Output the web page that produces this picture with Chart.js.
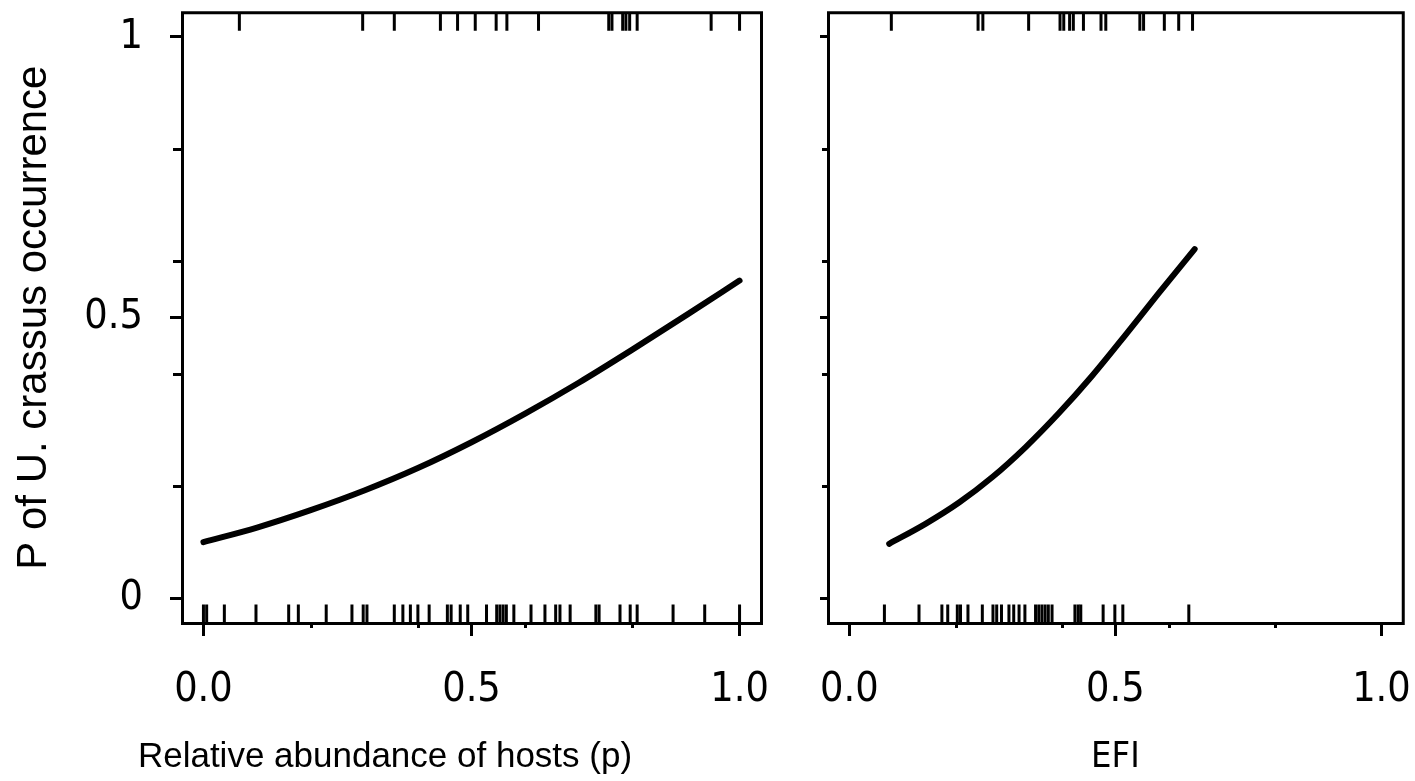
<!DOCTYPE html>
<html><head><meta charset="utf-8">
<script src="https://cdn.jsdelivr.net/npm/chart.js@4.4.0/dist/chart.umd.min.js"></script>
<style>
html,body{margin:0;padding:0;background:#fff;}
#wrap{position:relative;width:1415px;height:781px;overflow:hidden;background:#fff;}
canvas{position:absolute;top:0;}
</style></head><body>
<div id="wrap">
<canvas id="c1" width="790" height="781" style="left:0"></canvas>
<canvas id="c2" width="625" height="781" style="left:790px"></canvas>
</div>
<script>
// ---- Data: left panel (relative abundance of hosts) ----
const hostX = [0, 0.1, 0.2, 0.3, 0.4, 0.5, 0.6, 0.7, 0.8, 0.9, 1.0];
const hostP = [0.100, 0.126, 0.157, 0.192, 0.232, 0.278, 0.329, 0.384, 0.443, 0.504, 0.566];
const hostAbsent = [0.0, 0.006, 0.039, 0.098, 0.159, 0.177, 0.229, 0.277, 0.298, 0.305, 0.356, 0.372, 0.386, 0.400, 0.421, 0.455, 0.462, 0.479, 0.493, 0.528, 0.547, 0.553, 0.559, 0.565, 0.579, 0.611, 0.637, 0.657, 0.665, 0.684, 0.732, 0.738, 0.777, 0.796, 0.809, 0.876, 0.935, 1.0];
const hostPresent = [0.067, 0.297, 0.356, 0.442, 0.474, 0.507, 0.546, 0.566, 0.625, 0.756, 0.762, 0.782, 0.788, 0.795, 0.809, 0.947, 1.0];

// ---- Data: right panel (EFI) ----
const efiX = [0.075, 0.144, 0.207, 0.269, 0.331, 0.394, 0.456, 0.518, 0.580, 0.649];
const efiP = [0.097, 0.133, 0.171, 0.216, 0.269, 0.330, 0.396, 0.468, 0.542, 0.622];
const efiAbsent = [0.066, 0.131, 0.174, 0.185, 0.203, 0.209, 0.223, 0.250, 0.270, 0.277, 0.286, 0.300, 0.309, 0.319, 0.330, 0.350, 0.356, 0.362, 0.368, 0.374, 0.381, 0.424, 0.430, 0.435, 0.477, 0.499, 0.514, 0.638];
const efiPresent = [0.079, 0.242, 0.251, 0.337, 0.396, 0.403, 0.414, 0.421, 0.440, 0.473, 0.482, 0.546, 0.553, 0.592, 0.619, 0.645];

// ---- Ticks and labels ----
const xMajorTicks = [0, 0.5, 1];
const xMajorLabels = ['0.0', '0.5', '1.0'];
const xMinorTicks = [0.2, 0.4, 0.6, 0.8];
const yMajorTicks = [0, 0.5, 1];
const yMajorLabels = ['0', '0.5', '1'];
const yMinorTicks = [0.2, 0.4, 0.6, 0.8];
const yTitle = 'P of U. crassus occurrence';
const hostTitle = 'Relative abundance of hosts (p)';
const efiTitle = 'EFI';

const X_MIN = -0.04, X_MAX = 1.04;
const Y_MIN = -0.044, Y_MAX = 1.044;
const RUG_HALF = 0.0164; // half rug length in y units
const FONT = "'Liberation Sans', Arial, sans-serif";
const NARROW = "'Liberation Sans Narrow', 'Arial Narrow', 'DejaVu Sans Condensed', sans-serif";
const FS = 35;
const TICK_FS = 41;

const framePlugin = {
  id: 'frame',
  afterDraw(chart, args, opts) {
    const {ctx, chartArea: a, scales} = chart;
    ctx.save();
    ctx.strokeStyle = '#000';
    ctx.lineWidth = 3;
    ctx.strokeRect(a.left + 0.5, a.top + 0.5, a.right - a.left, a.bottom - a.top);
    ctx.beginPath();
    xMinorTicks.forEach(v => {
      const px = Math.round(scales.x.getPixelForValue(v)) + 0.5;
      ctx.moveTo(px, a.bottom); ctx.lineTo(px, a.bottom + opts.xMinorLen);
    });
    yMinorTicks.forEach(v => {
      const py = Math.round(scales.y.getPixelForValue(v)) + 0.5;
      ctx.moveTo(a.left, py); ctx.lineTo(a.left - opts.yMinorLen, py);
    });
    ctx.stroke();
    if (opts.xTitle) {
      ctx.fillStyle = '#000';
      ctx.font = FS + 'px ' + FONT;
      ctx.textAlign = 'center';
      ctx.textBaseline = 'middle';
      ctx.fillText(opts.xTitle, opts.xTitleX, opts.xTitleY);
    }
    ctx.restore();
  }
};

function rug(vals, atTop) {
  const y = atTop ? Y_MAX - RUG_HALF : Y_MIN + RUG_HALF;
  return {
    data: vals.map(v => ({x: v, y: y})),
    showLine: false,
    pointStyle: 'line',
    rotation: 90,
    pointRadius: 9.25,
    pointHoverRadius: 9.25,
    pointBorderWidth: 3,
    borderColor: '#000',
    backgroundColor: '#000'
  };
}

function makeChart(id, cx, cp, absent, present, xTitle, opts) {
  return new Chart(document.getElementById(id), {
    type: 'scatter',
    data: {
      datasets: [
        {
          data: cx.map((v, i) => ({x: v, y: cp[i]})),
          showLine: true,
          pointRadius: 0,
          borderColor: '#000',
          borderWidth: 6,
          borderCapStyle: 'round',
          cubicInterpolationMode: 'monotone'
        },
        rug(absent, false),
        rug(present, true)
      ]
    },
    options: {
      responsive: false,
      animation: false,
      devicePixelRatio: 1,
      events: [],
      layout: {padding: {top: opts.padTop, right: opts.padRight, left: 0, bottom: 0}},
      plugins: {legend: {display: false}, tooltip: {enabled: false},
        frame: {xMinorLen: 5, yMinorLen: opts.yMinorLen,
          xTitle: opts.customTitle ? xTitle : null, xTitleX: opts.titleX, xTitleY: 757}},
      scales: {
        x: {
          type: 'linear', min: X_MIN, max: X_MAX,
          afterBuildTicks: s => { s.ticks = xMajorTicks.map(v => ({value: v})); },
          afterFit: s => { s.height = 781 - 623; s.paddingLeft = 0; s.paddingRight = 0; },
          grid: {display: true, drawOnChartArea: false, drawTicks: true, tickLength: 13, tickWidth: 3, tickColor: '#000'},
          border: {display: false},
          ticks: {color: '#000', padding: 30, maxRotation: 0, autoSkip: false,
            font: {family: NARROW, size: TICK_FS},
            callback: (v, i) => xMajorLabels[i]},
          title: {display: !opts.customTitle, text: xTitle, color: '#000', font: {family: NARROW, size: 36}, padding: {top: 0, bottom: 2}}
        },
        y: {
          type: 'linear', min: Y_MIN, max: Y_MAX,
          afterBuildTicks: s => { s.ticks = yMajorTicks.map(v => ({value: v})); },
          afterFit: s => { s.width = opts.yWidth; s.paddingTop = 0; s.paddingBottom = 0; },
          grid: {display: true, drawOnChartArea: false, drawTicks: true, tickLength: opts.yTickLen, tickWidth: 3, tickColor: '#000'},
          border: {display: false},
          ticks: {display: opts.yLabels, color: '#000', padding: 27, autoSkip: false,
            font: {family: NARROW, size: TICK_FS},
            callback: (v, i) => yMajorLabels[i]},
          title: {display: opts.yLabels, text: yTitle, color: '#000', font: {family: FONT, size: 42}, padding: {top: 9, bottom: 0}}
        }
      }
    },
    plugins: [framePlugin]
  });
}

makeChart('c1', hostX, hostP, hostAbsent, hostPresent, hostTitle,
  {padTop: 8, padRight: 29, yWidth: 182, yTickLen: 12, yMinorLen: 9, yLabels: true, customTitle: true, titleX: 385});
makeChart('c2', efiX, efiP, efiAbsent, efiPresent, efiTitle,
  {padTop: 8, padRight: 9, yWidth: 38, yTickLen: 8, yMinorLen: 6, yLabels: false, customTitle: false});
</script>
</body></html>
